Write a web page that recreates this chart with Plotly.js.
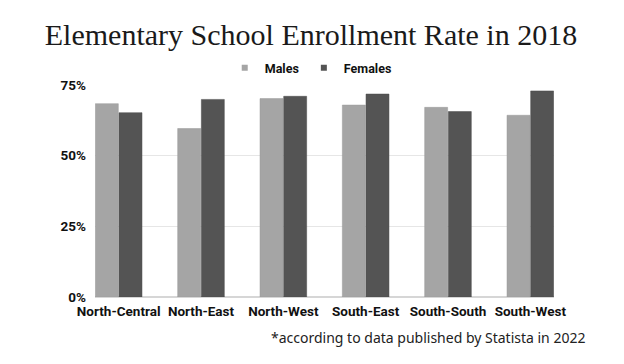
<!DOCTYPE html>
<html>
<head>
<meta charset="utf-8">
<script src="https://cdn.plot.ly/plotly-3.0.1.min.js"></script>
<style>html,body{margin:0;padding:0;background:#fff;}#chart{width:624px;height:364px;}</style>
</head>
<body>
<div id="chart"></div>
<script>
const regions = ["North-Central", "North-East", "North-West", "South-East", "South-South", "South-West"];
const males = [68.4, 59.6, 70.2, 67.9, 67.1, 64.3];
const females = [65.2, 69.9, 71.0, 71.8, 65.6, 72.9];
const yTickVals = [0, 25, 50, 75];
const yTickText = ["0%", "25%", "50%", "75%"];

const maleColor = "#a5a5a5";
const femaleColor = "#545454";
const labelFont = {family: "Roboto, 'Open Sans', sans-serif", size: 13.5, color: "#111", weight: 700};

const traces = [
  {type: "bar", name: "Males", x: regions, y: males, marker: {color: maleColor, line: {color: "#999", width: 0.5}}, showlegend: false},
  {type: "bar", name: "Females", x: regions, y: females, marker: {color: femaleColor, line: {color: "#4a4a4a", width: 0.5}}, showlegend: false},
  {type: "scatter", mode: "markers", name: "Males", x: [null], y: [null], marker: {symbol: "square", size: 6, color: maleColor}, showlegend: true, hoverinfo: "skip"},
  {type: "scatter", mode: "markers", name: "Females", x: [null], y: [null], marker: {symbol: "square", size: 6, color: femaleColor}, showlegend: true, hoverinfo: "skip"}
];

const layout = {
  width: 624, height: 364,
  margin: {l: 95, r: 70, t: 85, b: 67},
  paper_bgcolor: "#fff", plot_bgcolor: "#fff",
  barmode: "group", bargap: 0.425, bargroupgap: 0.03,
  title: {
    text: "Elementary School Enrollment Rate in 2018",
    font: {family: "'Liberation Serif', 'DejaVu Serif', serif", size: 30, color: "#1a1a1a"},
    x: 311/624, xref: "container", xanchor: "center",
    y: 1 - 34/364, yref: "container", yanchor: "middle"
  },
  xaxis: {
    type: "category", range: [-0.2875, 5.2875],
    showgrid: false, zeroline: false, showline: false,
    ticks: "", tickfont: labelFont, ticklabelstandoff: 4
  },
  yaxis: {
    range: [0, 75], tickvals: yTickVals, ticktext: yTickText,
    showgrid: true, gridcolor: "#e6e6e6", gridwidth: 1.5,
    zeroline: true, zerolinecolor: "#d6d6d6", zerolinewidth: 2,
    showline: false, ticks: "", tickfont: labelFont, ticklabelstandoff: 8
  },
  legend: {
    orientation: "h", x: 0.47, xanchor: "center", xref: "paper",
    y: 1 - 68/364, yref: "container", yanchor: "middle",
    font: {family: "Roboto, 'Open Sans', sans-serif", size: 12.5, color: "#111", weight: 700},
    itemwidth: 30, traceorder: "normal"
  },
  annotations: [{
    text: "*according to data published by Statista in 2022",
    xref: "paper", yref: "paper", x: (587-95)/459, xanchor: "right",
    y: -((337-297)/212), yanchor: "middle", showarrow: false,
    font: {family: "'Noto Sans', sans-serif", size: 14, color: "#222"}
  }]
};

Plotly.newPlot("chart", traces, layout, {displayModeBar: false, staticPlot: true});
</script>
</body>
</html>
